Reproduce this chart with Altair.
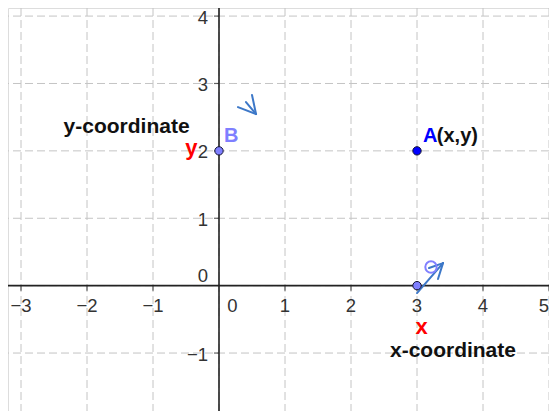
import altair as alt
import pandas as pd

# ---- data ----
grid_x = [-3, -2, -1, 0, 1, 2, 3, 4, 5]
grid_y = [-1, 0, 1, 2, 3, 4]

x_tick_vals = [-3, -2, -1, 1, 2, 3, 4, 5]
x_tick_text = ["−3", "−2", "−1", "1", "2", "3", "4", "5"]
y_tick_vals = [4, 3, 2, 1, -1]
y_tick_text = ["4", "3", "2", "1", "−1"]

point_names = ["A", "B", "P"]
point_x = [3, 0, 3]
point_y = [2, 2, 0]
point_fill = ["#0000ff", "#7f7fff", "#7f7fff"]

label_text = ["A", "(x,y)", "B", "y", "x", "y-coordinate", "x-coordinate"]
label_x = [3.09, 3.30, 0.076, -0.42, 3.07, -1.40, 3.545]
label_y = [2.13, 2.13, 2.13, 1.94, -0.71, 2.26, -1.055]

seg_x = [0.288, 0.500, 0.409, 3.000, 3.182, 3.318]
seg_y = [2.650, 2.828, 2.724, -0.110, 0.261, 0.098]
seg_x2 = [0.561, 0.561, 0.561, 3.394, 3.394, 3.394]
seg_y2 = [2.546, 2.546, 2.546, 0.335, 0.335, 0.335]

ring_x = [3.212]
ring_y = [0.276]

# ---- scales ----
XS = alt.Scale(domain=[-3.197, 5.0], nice=False, zero=False)
YS = alt.Scale(domain=[-1.86, 4.12], nice=False, zero=False)


def X(f, **kw):
    return alt.X(f, type="quantitative", scale=XS, axis=None, **kw)


def Y(f, **kw):
    return alt.Y(f, type="quantitative", scale=YS, axis=None, **kw)


FONT = "Liberation Sans"
TICK_FS = 18.5

gx = pd.DataFrame({"v": grid_x})
gy = pd.DataFrame({"v": grid_y})

grid_v = alt.Chart(gx).mark_rule(color="#c4c4c4", strokeWidth=1, strokeDash=[8, 4]).encode(x=X("v"))
grid_h = alt.Chart(gy).mark_rule(color="#c4c4c4", strokeWidth=1, strokeDash=[8, 4]).encode(y=Y("v"))

axis_v = alt.Chart(pd.DataFrame({"v": [0]})).mark_rule(color="#222222", strokeWidth=1.6).encode(x=X("v"))
axis_h = alt.Chart(pd.DataFrame({"v": [0]})).mark_rule(color="#222222", strokeWidth=1.6).encode(y=Y("v"))

xt = pd.DataFrame({"v": x_tick_vals, "t": x_tick_text, "z": [0] * len(x_tick_vals)})
yt = pd.DataFrame({"v": y_tick_vals, "t": y_tick_text, "z": [0] * len(y_tick_vals)})
xt_in = xt[xt["v"] < 5]
xt_edge = xt[xt["v"] == 5]

xticks = alt.Chart(xt).mark_tick(color="#222222", thickness=1.2, size=5, orient="vertical", yOffset=2.5).encode(
    x=X("v"), y=Y("z"))
yticks = alt.Chart(yt).mark_tick(color="#222222", thickness=1.2, size=5, orient="horizontal", xOffset=-2.5).encode(
    x=X("z"), y=Y("v"))

xlab = alt.Chart(xt_in).mark_text(font=FONT, fontSize=TICK_FS, color="#333333", align="center",
                                  baseline="alphabetic", dy=26.5).encode(x=X("v"), y=Y("z"), text="t:N")
xlab_edge = alt.Chart(xt_edge).mark_text(font=FONT, fontSize=TICK_FS, color="#333333", align="right",
                                         baseline="alphabetic", dy=26.5, dx=0).encode(x=X("v"), y=Y("z"), text="t:N")
ylab = alt.Chart(yt).mark_text(font=FONT, fontSize=TICK_FS, color="#333333", align="right", baseline="alphabetic",
                               dx=-11, dy=7.5).encode(x=X("z"), y=Y("v"), text="t:N")
origin = pd.DataFrame({"v": [0], "t": ["0"]})
x0lab = alt.Chart(origin).mark_text(font=FONT, fontSize=TICK_FS, color="#333333", align="center", baseline="alphabetic",
                                    dx=13.5, dy=26.5).encode(x=X("v"), y=Y("v"), text="t:N")
y0lab = alt.Chart(origin).mark_text(font=FONT, fontSize=TICK_FS, color="#333333", align="right", baseline="alphabetic",
                                    dx=-11, dy=-4).encode(x=X("v"), y=Y("v"), text="t:N")

segs = pd.DataFrame({"x": seg_x, "y": seg_y, "x2": seg_x2, "y2": seg_y2})
arrows = alt.Chart(segs).mark_rule(color="#3d78c8", strokeWidth=2, strokeCap="round").encode(
    x=X("x"), y=Y("y"), x2="x2:Q", y2="y2:Q")

ring = alt.Chart(pd.DataFrame({"x": ring_x, "y": ring_y})).mark_point(
    shape="circle", size=130, filled=False, stroke="#8080ff", strokeWidth=2, opacity=1).encode(x=X("x"), y=Y("y"))

pts = pd.DataFrame({"n": point_names, "x": point_x, "y": point_y, "c": point_fill})
points = alt.Chart(pts).mark_point(shape="circle", size=70, filled=True, stroke="#111133", strokeWidth=1,
                                   opacity=1).encode(
    x=X("x"), y=Y("y"), fill=alt.Fill("c:N", scale=None))

labels = pd.DataFrame({"t": label_text, "x": label_x, "y": label_y})


def lab(i, color, size, align, weight="bold"):
    return alt.Chart(labels.iloc[[i]]).mark_text(font=FONT, fontSize=size, fontWeight=weight, color=color,
                                                 align=align, baseline="alphabetic").encode(
        x=X("x"), y=Y("y"), text="t:N")


texts = [
    lab(0, "#0000ff", 20, "left"),
    lab(1, "#111111", 20, "left"),
    lab(2, "#7f7fff", 20, "left"),
    lab(3, "#ff0000", 22, "center"),
    lab(4, "#ff0000", 22, "center"),
    lab(5, "#111111", 21, "center"),
    lab(6, "#111111", 21, "center"),
]

chart = alt.layer(grid_v, grid_h, axis_v, axis_h, xticks, yticks, xlab, xlab_edge, ylab, x0lab, y0lab,
                  arrows, ring, points, *texts).properties(
    width=541, height=403, padding=0, autosize=alt.AutoSizeParams(type="none")
).configure_view(stroke=None).configure(background="white")

chart.save("out.html", embed_options={"renderer": "svg", "actions": False})
